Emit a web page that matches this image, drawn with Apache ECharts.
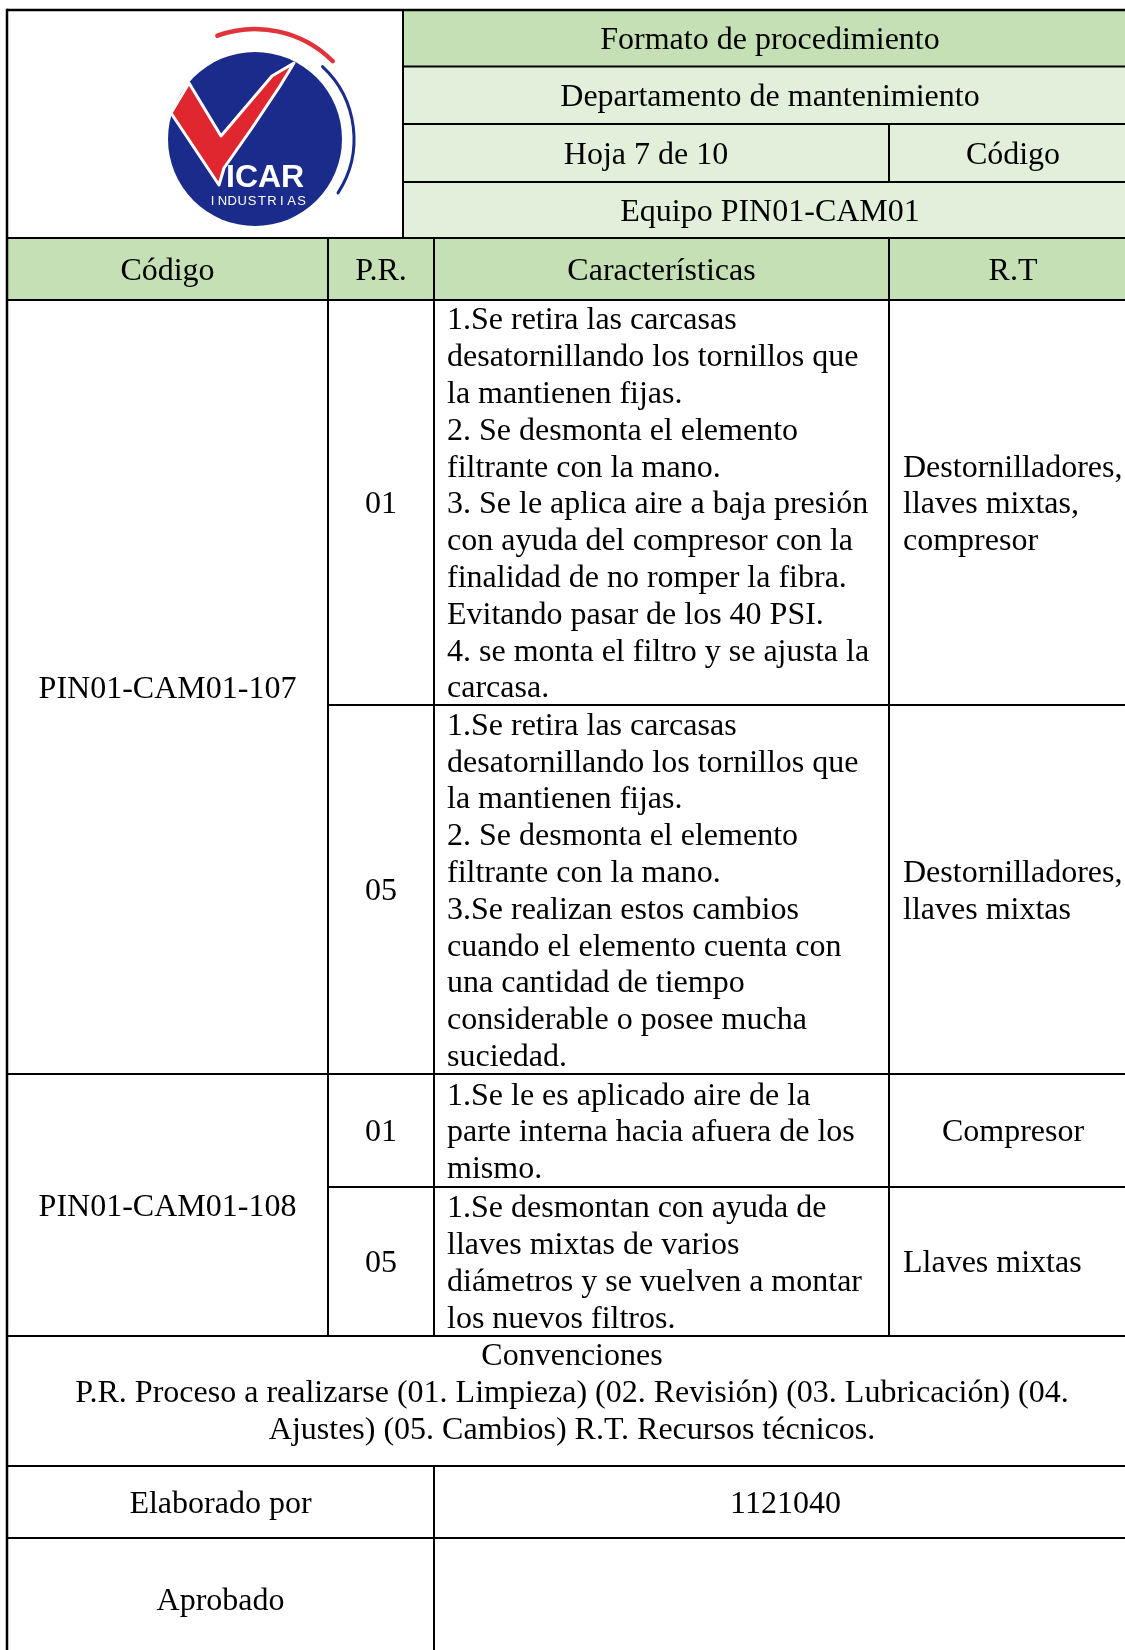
<!DOCTYPE html>
<html>
<head>
<meta charset="utf-8">
<script src="https://cdn.jsdelivr.net/npm/echarts@6/dist/echarts.min.js"></script>
<style>
html,body{margin:0;padding:0;background:#ffffff;}
#c{width:1125px;height:1650px;}
</style>
</head>
<body>
<div id="c"></div>
<script>
// ---------------- DATA ----------------
const headerTitles = ['Formato de procedimiento', 'Departamento de mantenimiento', 'Hoja 7 de 10', 'Código', 'Equipo PIN01-CAM01'];
const columnHeaders = ['Código', 'P.R.', 'Características', 'R.T'];
const equipmentCodes = ['PIN01-CAM01-107', 'PIN01-CAM01-108'];
const codeRowGroups = [[0, 1], [2, 3]];
const processCodes = ['01', '05', '01', '05'];
const characteristics = [
  ['1.Se retira las carcasas', 'desatornillando los tornillos que', 'la mantienen fijas.', '2. Se desmonta el elemento', 'filtrante con la mano.', '3. Se le aplica aire a baja presión', 'con ayuda del compresor con la', 'finalidad de no romper la fibra.', 'Evitando pasar de los 40 PSI.', '4. se monta el filtro y se ajusta la', 'carcasa.'],
  ['1.Se retira las carcasas', 'desatornillando los tornillos que', 'la mantienen fijas.', '2. Se desmonta el elemento', 'filtrante con la mano.', '3.Se realizan estos cambios', 'cuando el elemento cuenta con', 'una cantidad de tiempo', 'considerable o posee mucha', 'suciedad.'],
  ['1.Se le es aplicado aire de la', 'parte interna hacia afuera de los', 'mismo.'],
  ['1.Se desmontan con ayuda de', 'llaves mixtas de varios', 'diámetros y se vuelven a montar', 'los nuevos filtros.']
];
const technicalResources = [
  ['Destornilladores,', 'llaves mixtas,', 'compresor'],
  ['Destornilladores,', 'llaves mixtas'],
  ['Compresor'],
  ['Llaves mixtas']
];
const conventions = ['Convenciones', 'P.R. Proceso a realizarse (01. Limpieza) (02. Revisión) (03. Lubricación) (04.', 'Ajustes) (05. Cambios) R.T. Recursos técnicos.'];
const signatureLabels = ['Elaborado por', 'Aprobado'];
const signatureValues = ['1121040', ''];
const logoWord = 'ICAR';
const logoSub = 'INDUSTRIAS';

// ---------------- LAYOUT ----------------
const X0 = 7, XL = 403, XC1 = 328, XC2 = 434, XC3 = 889, XR = 1137;
const HY = [10, 66.5, 124, 182, 238];
const COLH = [238, 300];
const ROWY = [300, 705, 1074, 1187, 1336];
const CONVY = [1336, 1466];
const SIGY = [1466, 1538, 1660];
const rtAlign = ['left', 'left', 'center', 'left'];
const GREEN = '#C5E0B4', LIGHT = '#E2EFDA';
const FONT = "'Liberation Serif', 'Times New Roman', serif";
const FS = 32, LH = 36.8, DY = 2.5;

const els = [];
function rect(x1, y1, x2, y2, fill) {
  els.push({type: 'rect', z: 0, silent: true, shape: {x: x1, y: y1, width: x2 - x1, height: y2 - y1}, style: {fill: fill}});
}
function line(x1, y1, x2, y2, w) {
  els.push({type: 'line', z: 5, silent: true, shape: {x1: x1, y1: y1, x2: x2, y2: y2}, style: {stroke: '#000', lineWidth: w || 2}});
}
function text(s, x, y, align) {
  els.push({type: 'text', z: 3, silent: true, style: {text: s, x: x, y: y + DY, font: FS + 'px ' + FONT, fill: '#000', align: align || 'center', verticalAlign: 'middle'}});
}
function block(arr, x, yc, align) {
  const n = arr.length;
  arr.forEach((s, i) => text(s, x, yc + (i - (n - 1) / 2) * LH, align));
}

// fills
rect(XL, HY[0], XR, HY[1], GREEN);
rect(XL, HY[1], XR, HY[4], LIGHT);
rect(X0, COLH[0], XR, COLH[1], GREEN);

// header texts
const hc = (XL + XR) / 2;
text(headerTitles[0], hc, (HY[0] + HY[1]) / 2);
text(headerTitles[1], hc, (HY[1] + HY[2]) / 2);
text(headerTitles[2], (XL + XC3) / 2, (HY[2] + HY[3]) / 2);
text(headerTitles[3], (XC3 + XR) / 2, (HY[2] + HY[3]) / 2);
text(headerTitles[4], hc, (HY[3] + HY[4]) / 2);

// column headers
const colCenters = [(X0 + XC1) / 2, (XC1 + XC2) / 2, (XC2 + XC3) / 2, (XC3 + XR) / 2];
columnHeaders.forEach((s, i) => text(s, colCenters[i], (COLH[0] + COLH[1]) / 2));

// body
codeRowGroups.forEach((g, i) => {
  text(equipmentCodes[i], colCenters[0], (ROWY[g[0]] + ROWY[g[g.length - 1] + 1]) / 2);
});
processCodes.forEach((p, i) => {
  const yc = (ROWY[i] + ROWY[i + 1]) / 2;
  text(p, colCenters[1], yc);
  block(characteristics[i], XC2 + 13, yc, 'left');
  if (rtAlign[i] === 'center') block(technicalResources[i], colCenters[3], yc, 'center');
  else block(technicalResources[i], XC3 + 14, yc, 'left');
});

// conventions
block(conventions, (X0 + XR) / 2, (CONVY[0] + CONVY[1]) / 2 - 10, 'center');

// signatures
signatureLabels.forEach((s, i) => {
  const yc = (SIGY[i] + SIGY[i + 1]) / 2;
  text(s, (X0 + XC2) / 2, yc);
  if (signatureValues[i]) text(signatureValues[i], (XC2 + XR) / 2, yc);
});

// grid lines
line(X0, HY[0], XR, HY[0], 2.5);
[HY[1], HY[2], HY[3]].forEach(y => line(XL, y, XR, y, 2));
line(X0, HY[4], XR, HY[4], 2);
line(X0, COLH[1], XR, COLH[1], 2);
line(XC1, ROWY[1], XR, ROWY[1], 2);
line(X0, ROWY[2], XR, ROWY[2], 2);
line(XC1, ROWY[3], XR, ROWY[3], 2);
line(X0, ROWY[4], XR, ROWY[4], 2);
line(X0, CONVY[1], XR, CONVY[1], 2);
line(X0, SIGY[1], XR, SIGY[1], 2);
line(X0, HY[0] - 1.25, X0, 1650, 2.5);
line(XL, HY[0], XL, HY[4], 2);
line(XC3, HY[2], XC3, HY[3], 2);
[XC1, XC2, XC3].forEach(x => line(x, COLH[0], x, ROWY[4], 2));
line(XC2, CONVY[1], XC2, 1650, 2);

// logo
const LCX = 255, LCY = 139;
els.push({type: 'arc', z: 1, silent: true, shape: {cx: LCX, cy: LCY, r: 110, startAngle: -110 * Math.PI / 180, endAngle: -45 * Math.PI / 180, clockwise: true}, style: {stroke: '#E0333A', lineWidth: 4.5, fill: null, lineCap: 'round'}});
els.push({type: 'arc', z: 1, silent: true, shape: {cx: LCX, cy: LCY, r: 99, startAngle: -47 * Math.PI / 180, endAngle: 33 * Math.PI / 180, clockwise: true}, style: {stroke: '#1B2B8B', lineWidth: 3, fill: null, lineCap: 'round'}});
els.push({type: 'circle', z: 1, silent: true, shape: {cx: LCX, cy: LCY, r: 87}, style: {fill: '#1B2B8B'}});
els.push({type: 'polygon', z: 2, silent: true, shape: {points: [[171, 113], [189, 83], [221, 136], [272, 76], [294, 63], [280, 86], [252, 128], [224, 168], [219, 185]]}, style: {fill: '#E0262F', stroke: '#ffffff', lineWidth: 3, lineJoin: 'round'}});
els.push({type: 'text', z: 3, silent: true, style: {text: logoWord, x: 226, y: 178, font: 'bold 32px "Liberation Sans", Arial, sans-serif', fill: '#ffffff', align: 'left', verticalAlign: 'middle'}});
logoSub.split('').forEach((ch, i) => {
  els.push({type: 'text', z: 3, silent: true, style: {text: ch, x: 212.5 + i * 9.9, y: 201, font: '500 13px "Liberation Sans", Arial, sans-serif', fill: '#ffffff', align: 'center', verticalAlign: 'middle'}});
});

const chart = echarts.init(document.getElementById('c'), null, {renderer: 'canvas'});
chart.setOption({backgroundColor: '#ffffff', animation: false, graphic: {elements: els}});
</script>
</body>
</html>
